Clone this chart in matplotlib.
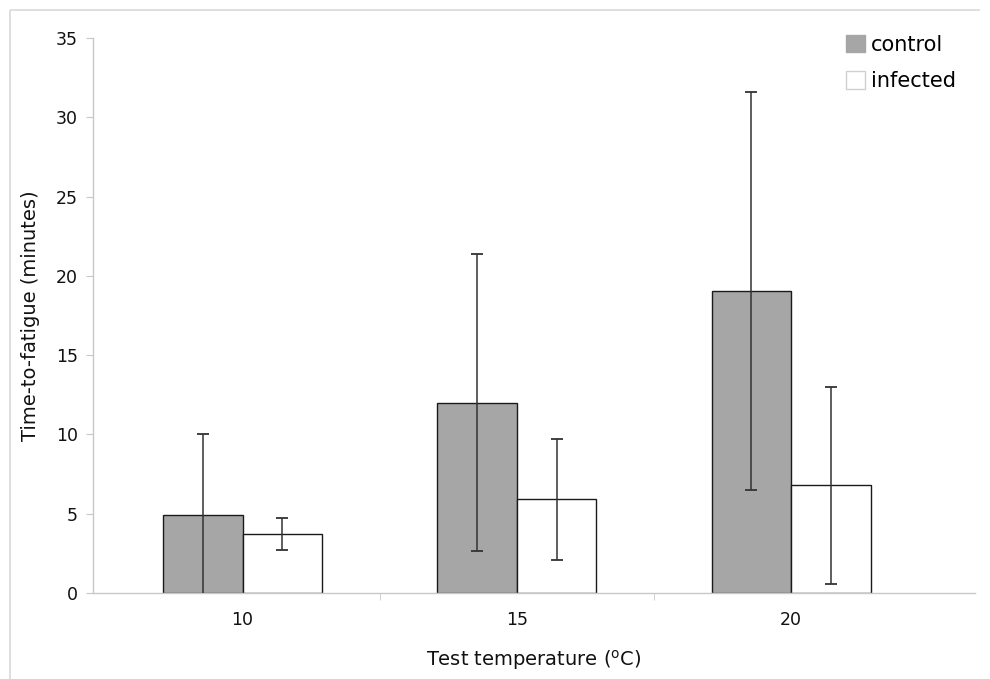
import matplotlib
matplotlib.use("Agg")
import matplotlib.pyplot as plt
import numpy as np
from matplotlib.patches import Patch
from matplotlib.lines import Line2D

categories = ["10", "15", "20"]
control = [4.9, 12.0, 19.05]
control_err = [5.1, 9.35, 12.55]
infected = [3.7, 5.9, 6.78]
infected_err = [1.0, 3.8, 6.2]
yticks = [0, 5, 10, 15, 20, 25, 30, 35]

plt.rcParams['font.family'] = ['DejaVu Sans']

W, H = 990, 679
fig = plt.figure(figsize=(W / 100, H / 100), dpi=100)

# faint outer frame (top and left visible)
fig.add_artist(Line2D([10 / W, 0.99], [1 - 10 / H, 1 - 10 / H], color="#d9d9d9", lw=1.2,
                      solid_capstyle="butt", transform=fig.transFigure))
fig.add_artist(Line2D([10 / W, 10 / W], [0.0, 1 - 10 / H], color="#d9d9d9", lw=1.2,
                      solid_capstyle="butt", transform=fig.transFigure))

ax = fig.add_axes([93 / W, 1 - 593 / H, (975 - 93) / W, (593 - 38) / H])

x = np.arange(len(categories))
bw = 0.29
ax.bar(x - bw / 2, control, width=bw, color="#a6a6a6", edgecolor="#1a1a1a", linewidth=1.0, zorder=2, label="control")
ax.bar(x + bw / 2, infected, width=bw, color="white", edgecolor="#1a1a1a", linewidth=1.0, zorder=2, label="infected")
ax.errorbar(x - bw / 2, control, yerr=control_err, fmt="none", ecolor="#333333", elinewidth=1.1, capsize=4, capthick=1.3, zorder=3)
ax.errorbar(x + bw / 2, infected, yerr=infected_err, fmt="none", ecolor="#333333", elinewidth=1.1, capsize=4, capthick=1.3, zorder=3)

ax.set_ylim(0, 35)
ax.set_xlim(-0.545, 2.67)
ax.set_yticks(yticks)
ax.set_xticks(x)
ax.set_xticklabels(categories)
ax.set_xticks([0.5, 1.5], minor=True)

for s in ["top", "right"]:
    ax.spines[s].set_visible(False)
for s in ["left", "bottom"]:
    ax.spines[s].set_color("#c8c8c8")
    ax.spines[s].set_linewidth(1.0)

ax.tick_params(axis="y", direction="out", length=5, color="#c8c8c8", labelsize=12.5, pad=6, labelcolor="#111111")
ax.tick_params(axis="x", which="major", length=0, labelsize=12.5, pad=13, labelcolor="#111111")
ax.tick_params(axis="x", which="minor", direction="out", length=5, color="#c8c8c8")

ax.set_ylabel("Time-to-fatigue (minutes)", fontsize=14, labelpad=11, color="#111111")
ax.set_xlabel("Test temperature ($\\mathregular{^o}$C)", fontsize=14, labelpad=14, color="#111111")

handles = [Patch(facecolor="#a6a6a6", edgecolor="#a6a6a6"),
           Patch(facecolor="white", edgecolor="#d0d0d0")]
ax.legend(handles, ["control", "infected"], loc="upper right", bbox_to_anchor=(1.0, 1.04),
          frameon=False, fontsize=15, handlelength=0.9, handleheight=0.9, handletextpad=0.3,
          labelspacing=0.8)

fig.savefig("out.png", dpi=100)
